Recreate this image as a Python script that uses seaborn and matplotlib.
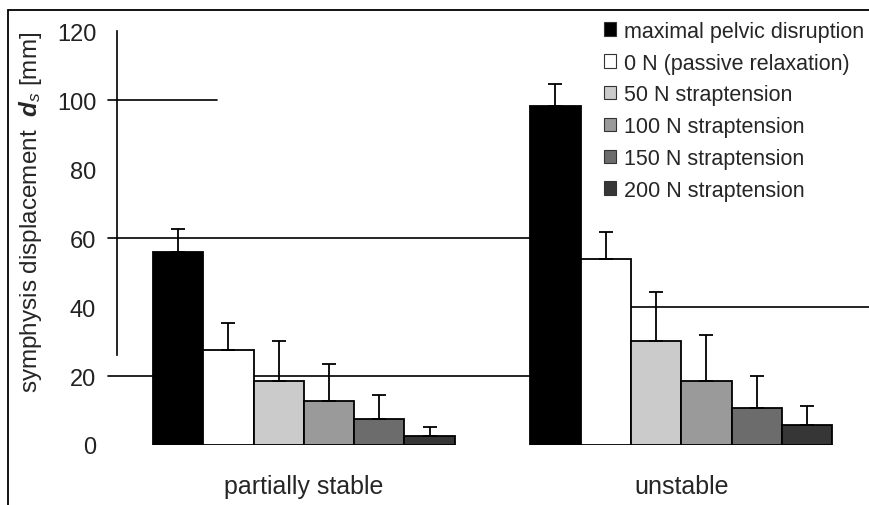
import matplotlib
matplotlib.use("Agg")
import matplotlib.pyplot as plt
import seaborn as sns
import pandas as pd
import numpy as np
from matplotlib.patches import Patch, Rectangle

groups = ["partially stable", "unstable"]
conditions = ["maximal pelvic disruption", "0 N (passive relaxation)",
              "50 N strap tension", "100 N strap tension",
              "150 N strap tension", "200 N strap tension"]
legend_labels = ["maximal pelvic disruption", "0 N (passive relaxation)",
                 "50 N straptension", "100 N straptension",
                 "150 N straptension", "200 N straptension"]
means_partial = [56.0, 27.5, 18.6, 12.8, 7.5, 2.6]
means_unstable = [98.3, 53.9, 30.2, 18.6, 10.7, 5.8]
err_partial = [6.6, 7.9, 11.5, 10.7, 7.0, 2.6]
err_unstable = [6.3, 7.8, 14.1, 13.3, 9.3, 5.5]
colors = ["#000000", "#ffffff", "#cbcbcb", "#9a9a9a", "#6c6c6c", "#363636"]
yticks = [0, 20, 40, 60, 80, 100, 120]

df = pd.DataFrame({
    "group": [groups[0]] * 6 + [groups[1]] * 6,
    "condition": conditions * 2,
    "value": means_partial + means_unstable,
})
errs = {groups[0]: err_partial, groups[1]: err_unstable}

sns.set_theme(style="white")
plt.rcParams['font.family'] = ['Liberation Sans', 'DejaVu Sans']
plt.rcParams['mathtext.fontset'] = 'custom'
plt.rcParams['mathtext.rm'] = 'Liberation Sans'
plt.rcParams['mathtext.it'] = 'Liberation Sans:italic'
plt.rcParams['mathtext.bf'] = 'Liberation Sans:bold'
plt.rcParams['mathtext.bfit'] = 'Liberation Sans:bold:italic'

fig = plt.figure(figsize=(8.7, 5.06), dpi=100)
ax = fig.add_axes([0.1345, 0.1186, 0.8655, 0.818])

sns.barplot(data=df, x="group", y="value", hue="condition",
            order=groups, hue_order=conditions, palette=colors,
            edgecolor="black", linewidth=1.3, saturation=1,
            errorbar=None, legend=False, ax=ax, width=0.8, gap=0)

# upward error bars: match bars to data by their position on the axis
bars = [p for p in ax.patches if p is not None and p.get_height() > 0]
for gi in range(len(groups)):
    gbars = sorted([b for b in bars
                    if round(b.get_x() + b.get_width() / 2) == gi],
                   key=lambda b: b.get_x())
    for ci, bar in enumerate(gbars):
        xc = bar.get_x() + bar.get_width() / 2
        h = bar.get_height()
        e = errs[groups[gi]][ci]
        ax.errorbar([xc], [h], yerr=[[0], [e]], fmt="none", ecolor="black",
                    elinewidth=1.3, capsize=4.8, capthick=1.3, zorder=1)

ax.set_xlim(-0.495, 1.5)
ax.set_ylim(0, 120)
ax.set_yticks(yticks)
ax.set_yticklabels([str(t) for t in yticks], fontsize=17, color="#222222")
ax.tick_params(axis="y", length=0, pad=15)
ax.tick_params(axis="x", length=0, pad=21, labelsize=18)
ax.set_xlabel("")
ax.set_ylabel(r"symphysis displacement  $\boldsymbol{d}_s$ [mm]", fontsize=17.5)
ax.yaxis.set_label_coords(-0.097, 0.565)

for s in ["top", "right", "bottom"]:
    ax.spines[s].set_visible(False)
ax.spines["left"].set_color("black")
ax.spines["left"].set_linewidth(1.2)
ax.spines["left"].set_bounds(26, 120)

# partial (scanned) gridlines: (y, xmin, xmax) in axes fraction
grid_segments = [(100, -0.012, 0.133), (60, -0.012, 0.55), (20, -0.012, 0.55),
                 (40, 0.68, 1.0)]
for y, x0, x1 in grid_segments:
    ax.axhline(y, x0, x1, color="black", linewidth=1.2, zorder=0, clip_on=False)

handles = [Patch(facecolor=c, edgecolor="#333333", linewidth=0.8) for c in colors]
leg = fig.legend(handles, legend_labels, loc="upper left",
                 bbox_to_anchor=(0.684, 0.974), frameon=False, fontsize=15.5,
                 handlelength=0.58, handleheight=0.58, handletextpad=0.38,
                 labelspacing=0.5, borderaxespad=0)

# outer frame of the figure
fig.patches.append(Rectangle((0.009, -0.01), 1.0, 0.988, transform=fig.transFigure,
                             fill=False, edgecolor="black", linewidth=1.3))

fig.savefig("out.png", dpi=100)
